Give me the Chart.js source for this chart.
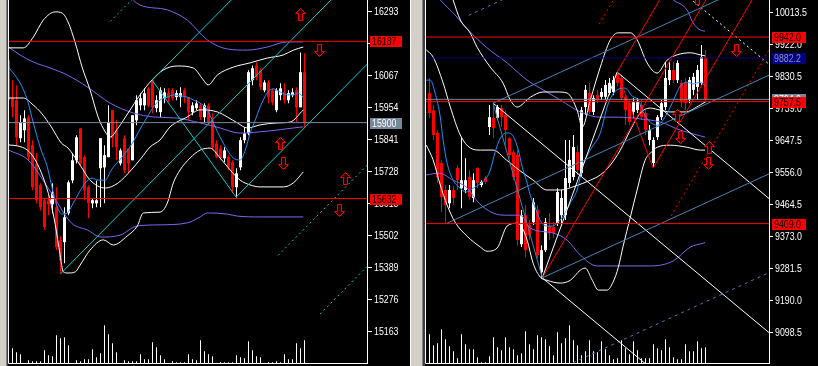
<!DOCTYPE html>
<html>
<head>
<meta charset="utf-8">
<script src="https://cdn.jsdelivr.net/npm/chart.js@4.4.0/dist/chart.umd.min.js"></script>
<style>
  html, body { margin: 0; padding: 0; background: #000; }
  body { width: 818px; height: 366px; position: relative; overflow: hidden; }
  canvas { position: absolute; top: 0; }
  #leftChart { left: 8px; }
  #rightChart { left: 425px; }
  .frame { position: absolute; top: 0; height: 366px; }
</style>
</head>
<body>
<div class="frame" style="left:0;width:6px;background:#d4d0c8"></div>
<div class="frame" style="left:6px;width:1px;background:#808080"></div>
<div class="frame" style="left:7px;width:1px;background:#404040"></div>
<div class="frame" style="left:410px;width:1px;background:#ffffff"></div>
<div class="frame" style="left:411px;width:11px;background:#d4d0c8"></div>
<div class="frame" style="left:422px;width:1px;background:#808080"></div>
<div class="frame" style="left:423px;width:2px;background:#404040"></div>
<canvas id="leftChart" width="402" height="366"></canvas>
<canvas id="rightChart" width="393" height="366"></canvas>
<script>
// ---------- left chart (15xxx index) ----------
var leftTicks = [16293, 16180, 16067, 15954, 15841, 15728, 15615, 15502, 15389, 15276, 15163];
var leftLevels = [16187, 15900, 15632];

var leftOpen = [16120,15986,15979,15845,15873,15919,15820,15756,15679,15626,
  15626,15612,15601,15485,15478,15580,15696,15767,15880,15778,
  15672,15615,15615,15739,15742,15778,15944,15873,15756,15845,
  15809,15767,15908,15961,15961,16021,16050,15951,15937,15986,
  16004,16014,15990,15990,16014,15990,15937,15951,15961,15919,
  15961,15908,15827,15809,15774,15778,15760,15672,15742,15838,
  15862,16050,16102,16085,16014,16042,16014,15944,15997,16007,
  15979,15997,16014,15954,16078];
var leftClose = [15979,15954,15848,15901,15915,15778,15672,15626,15601,15531,
  15612,15654,15460,15414,15566,15689,15767,15848,15756,15661,
  15615,15626,15626,15845,15785,15901,15845,15813,15802,15732,
  15756,15926,15979,15986,16004,15961,15954,15979,16014,16007,
  15986,15986,16004,16004,15990,15937,15961,15968,15919,15961,
  15901,15813,15778,15774,15802,15742,15672,15721,15838,15862,
  16078,16092,16060,16025,16042,15990,15972,16014,16021,15979,
  16004,16007,15954,16078,15900];
var leftHigh = [16138,16050,16032,15926,15944,15926,15838,15792,15686,15633,
  15643,15686,15672,15499,15601,15696,15792,15855,15880,15785,
  15679,15633,15696,15845,15820,15961,15944,15908,15809,15855,
  15809,15926,15997,16004,16021,16025,16050,15997,16025,16021,
  16021,16021,16014,16025,16021,15990,15972,15979,15968,15968,
  15968,15933,15838,15820,15813,15785,15767,15739,15848,15884,
  16085,16102,16113,16092,16050,16050,16021,16021,16039,16039,
  16014,16021,16025,16148,16145];
var leftLow = [15848,15919,15820,15831,15831,15767,15661,15615,15590,15520,
  15573,15580,15449,15368,15403,15573,15686,15756,15749,15626,
  15562,15598,15601,15601,15615,15778,15813,15767,15749,15721,
  15721,15767,15891,15944,15944,15954,15933,15937,15919,15968,
  15972,15979,15979,15954,15968,15908,15926,15944,15908,15901,
  15891,15802,15774,15767,15760,15732,15651,15636,15732,15827,
  15855,16032,16050,16014,16007,15968,15961,15937,15979,15968,
  15968,15990,15901,15954,15884];
var leftVol = [0,44,32,26,0,8,5,5,5,38,23,20,83,74,77,53,0,8,5,11,11,41,17,29,113,
  86,59,32,0,8,5,5,5,26,11,11,62,47,23,11,0,5,2,2,2,26,11,8,68,35,26,20,0,2,2,
  2,2,23,17,14,65,38,20,17,0,2,2,5,2,26,11,11,59,44,68];

var leftMA = [[0,16096],[2.9,16040],[4.7,15980],[6.2,15899],[7.9,15814],[9.7,15743],[11.2,15652],
  [12.2,15602],[13.4,15577],[14.7,15581],[16.2,15616],[17.9,15659],[19.2,15687],[20.9,15704],
  [22.4,15697],[24.2,15697],[25.7,15733],[28.2,15775],[30.7,15821],[33.2,15885],[34.7,15920],
  [36.2,15955],[37.9,15980],[39.7,15990],[41.2,15998],[42.9,15994],[44.7,15990],[46.2,15980],
  [47.9,15969],[49.7,15945],[51.2,15899],[52.9,15849],[54.7,15803],[56.2,15775],[57.9,15768],
  [59.2,15803],[60.4,15863],[61.7,15909],[62.9,15955],[64.7,16005],[66.2,16019],[67.9,16008],
  [69.7,15998],[71.2,15998],[72.4,16005],[73.7,15990]];
var leftBandUp = [[0,16164],[3.7,16164],[6.2,16202],[8.7,16262],[11.7,16291],[13.4,16287],[14.9,16255],
  [16.7,16181],[18.4,16096],[20.4,16015],[22.4,15920],[24.2,15867],[25.4,15849],[27.4,15881],
  [29.9,15934],[32.9,15998],[35.9,16051],[38.7,16086],[42.2,16100],[46.2,16093],[48.7,16051],
  [49.9,16033],[52.2,16068],[56.2,16096],[60.4,16111],[64.7,16128],[68.7,16139],[71.2,16156],[73.7,16167]];
var leftBandMid = [[0,15987],[3.7,15987],[6.2,15962],[8.2,15934],[10.7,15885],[13.2,15828],[14.9,15810],
  [17.9,15750],[20.4,15697],[24.2,15669],[27.4,15687],[30.7,15733],[33.2,15775],[35.4,15814],
  [37.9,15839],[40.4,15885],[44.7,15920],[47.9,15945],[52.2,15938],[54.7,15920],[57.2,15899],
  [59.7,15881],[62.9,15892],[67.2,15899],[70.4,15902],[73.7,15945]];
var leftBandLow = [[0,15821],[2.2,15818],[4.7,15803],[6.7,15768],[8.7,15705],[10.4,15627],[11.7,15539],
  [12.9,15433],[13.7,15373],[14.9,15369],[16.7,15373],[17.9,15397],[20.4,15450],[23.7,15486],
  [26.2,15468],[29.7,15500],[32.2,15535],[33.7,15581],[37.9,15584],[39.7,15616],[41.2,15687],
  [42.9,15733],[45.4,15775],[47.9,15803],[50.4,15810],[52.9,15775],[55.4,15733],[57.9,15697],
  [60.4,15680],[62.9,15673],[68.7,15673],[71.2,15687],[73.7,15726]];
var leftSlowUp = [[25.4,16442],[31.2,16333],[32.9,16315],[39.7,16298],[44.7,16262],[49.7,16192],
  [54.7,16160],[59.7,16156],[64.7,16167],[69.7,16185],[73.7,16185]];
var leftSlowMid = [[0,16167],[2.9,16139],[6.2,16114],[10.4,16093],[14.7,16068],[19.7,16026],[25.4,15969],
  [31.2,15934],[36.2,15920],[42.2,15916],[47.9,15899],[52.9,15881],[57.9,15863],[64.7,15870],
  [71.2,15881],[73.7,15885]];
var leftSlowLow = [[0,15803],[4.9,15768],[10.7,15652],[15.7,15546],[19.7,15521],[23.2,15496],[27.9,15503],
  [32.2,15535],[37.9,15539],[44.7,15546],[47.9,15567],[49.7,15581],[54.7,15577],[57.2,15570],
  [62.9,15567],[73.7,15567]];

// pitchfork on the left chart
var leftForkMedian = [[13.0,15366],[82.9,16366]];
var leftForkUpper = [[35.9,16050],[57.9,16365]];
var leftForkLower = [[56.9,15637],[90.4,16117]];
var leftForkLink = [[35.9,16050],[56.9,15637]];
var leftForkDots = [[[25.4,16257],[31.7,16346]], [[67.4,15431],[90.4,15760]], [[77.9,15224],[90.4,15403]]];

var leftArrowsUp = [[72.9,16282],[67.9,15827],[84.1,15703]];
var leftArrowsDown = [[77.5,16156],[68.5,15758],[82.6,15592]];

// ---------- right chart (9xxx index) ----------
var rightTicks = [10013.5, 9922.0, 9830.5, 9739.0, 9647.5, 9556.0, 9464.5, 9373.0, 9281.5, 9190.0, 9098.5];
var rightLevels = [9942.0, 9882.2, 9764.0, 9757.5, 9409.0];

var rightOpen = [9782,9733,9668,9582,9505,9467,9505,9568,9510,9505,
  9542,9482,9568,9519,9539,9685,9711,9711,9739,9719,
  9653,9613,9605,9350,9433,9405,9413,9448,9270,9333,
  9402,9399,9410,9433,9433,9525,9542,9613,9553,9742,
  9782,9728,9776,9771,9771,9782,9785,9839,9825,9771,
  9753,9728,9733,9748,9725,9648,9582,9656,9713,9742,
  9819,9848,9819,9811,9811,9762,9791,9799,9811,9885];
var rightClose = [9725,9662,9542,9485,9462,9505,9482,9533,9533,9533,
  9485,9533,9525,9528,9528,9713,9682,9742,9713,9676,
  9605,9542,9362,9433,9333,9376,9470,9319,9333,9413,
  9382,9382,9499,9482,9539,9591,9628,9562,9733,9791,
  9728,9768,9762,9785,9805,9811,9819,9811,9768,9733,
  9699,9756,9756,9713,9676,9676,9648,9713,9753,9825,
  9848,9819,9868,9756,9753,9819,9828,9848,9885,9764];
var rightHigh = [9825,9748,9676,9590,9519,9519,9516,9576,9656,9596,
  9562,9553,9570,9533,9545,9748,9753,9748,9748,9733,
  9656,9619,9619,9448,9462,9419,9482,9462,9347,9425,
  9439,9413,9510,9505,9648,9648,9662,9633,9742,9805,
  9811,9776,9791,9796,9819,9825,9831,9845,9834,9776,
  9762,9768,9768,9762,9733,9691,9656,9719,9762,9871,
  9871,9871,9876,9819,9825,9828,9839,9862,9919,9905];
var rightLow = [9711,9648,9525,9442,9410,9453,9462,9505,9453,9496,
  9476,9470,9510,9513,9522,9662,9653,9705,9685,9633,
  9596,9533,9347,9342,9313,9362,9405,9310,9253,9328,
  9362,9368,9402,9402,9419,9513,9533,9548,9545,9719,
  9722,9719,9753,9762,9762,9776,9776,9802,9762,9691,
  9691,9711,9725,9705,9662,9633,9570,9648,9705,9733,
  9805,9811,9811,9742,9733,9753,9776,9762,9805,9753];
var rightVol = [86,53,59,101,71,50,35,14,86,56,41,41,17,2,2,20,77,47,38,77,47,41,23,29,95,
  56,41,83,77,71,50,23,92,59,74,113,68,53,23,35,68,35,32,65,41,23,11,14,68,44,26,65,38,14,14,
  14,56,44,38,71,47,17,11,11,56,35,35,65,44,47];

var rightMA = [[-0.8,9819],[0.2,9819],[1.4,9782],[2.7,9713],[3.4,9648],[4.4,9582],[5.9,9533],[7.4,9513],
  [9.2,9499],[10.9,9510],[12.9,9525],[14.2,9539],[15.2,9562],[16.4,9613],[17.7,9653],[19.4,9668],
  [20.9,9659],[22.2,9619],[23.2,9570],[24.2,9533],[25.2,9490],[26.7,9447],[27.9,9413],[29.2,9402],
  [30.7,9402],[31.9,9410],[33.4,9430],[35.2,9468],[36.9,9505],[38.4,9576],[40.2,9619],[42.7,9668],
  [44.4,9742],[45.7,9776],[47.2,9793],[48.9,9796],[50.7,9773],[52.2,9762],[53.4,9728],[55.2,9699],
  [56.9,9690],[58.4,9705],[60.2,9742],[61.9,9785],[62.7,9802],[64.4,9813],[65.9,9808],[67.7,9813],[68.9,9802]];
var rightBandUp = [[2.7,10162],[5.9,10048],[7.7,9991],[10.2,9953],[11.9,9913],[15.2,9856],[18.4,9810],
  [20.2,9762],[21.9,9742],[25.2,9770],[28.4,9785],[31.9,9785],[34.4,9782],[36.9,9733],[38.2,9685],
  [40.2,9762],[42.7,9856],[45.2,9934],[47.2,9954],[50.2,9954],[51.9,9934],[54.4,9868],[56.9,9839],
  [59.4,9876],[61.9,9891],[65.2,9897],[67.7,9891],[68.9,9888]];
var rightBandMid = [[-0.8,9905],[0.9,9885],[3.4,9811],[5.2,9742],[7.7,9662],[10.2,9625],[12.7,9619],
  [15.9,9619],[19.2,9591],[22.4,9562],[25.9,9533],[29.4,9505],[32.7,9505],[36.4,9516],[40.2,9533],
  [42.7,9548],[45.2,9576],[47.7,9619],[50.2,9676],[52.7,9725],[55.2,9739],[57.7,9733],[60.2,9728],
  [63.9,9728],[67.7,9748],[68.9,9756]];
var rightBandLow = [[-0.8,9633],[0.9,9591],[2.7,9519],[4.4,9462],[6.4,9413],[9.4,9373],[12.7,9342],
  [14.4,9330],[16.9,9339],[19.4,9402],[21.9,9410],[23.2,9396],[24.4,9362],[25.9,9296],[27.7,9256],
  [29.4,9247],[32.7,9239],[35.2,9247],[37.7,9276],[38.9,9282],[40.7,9247],[42.2,9219],[44.4,9219],
  [45.9,9242],[47.2,9284],[48.4,9344],[50.2,9427],[51.9,9505],[53.9,9590],[55.2,9610],[56.9,9627],
  [60.2,9633],[64.4,9627],[67.7,9619],[68.9,9619]];
var rightSlowUp = [[57.7,10076],[60.9,10048],[64.4,10019],[65.9,9982],[67.7,9962],[68.9,9959]];
var rightSlowMid = [[-0.8,10100],[2.7,10048],[6.4,10005],[9.7,9962],[14.4,9911],[19.4,9868],[24.4,9819],
  [28.4,9791],[32.7,9762],[37.7,9728],[42.7,9713],[47.2,9713],[52.7,9708],[57.7,9699],[62.7,9676],[68.9,9656]];
var rightSlowLow = [[-0.8,9548],[2.4,9553],[5.9,9533],[9.2,9513],[12.4,9467],[15.9,9439],[19.2,9433],
  [22.7,9433],[25.2,9396],[30.9,9382],[34.4,9362],[37.7,9319],[41.9,9288],[55.2,9288],[60.9,9302],
  [65.2,9342],[68.4,9353],[68.9,9355]];

// three pitchforks on the right chart
var blueForkMedian = [[4.35,9410],[86.4,9841]];
var blueForkUpper = [[15.9,9753],[72.7,10051]];
var blueForkLower = [[28.2,9254],[86.4,9559]];
var blueForkLink = [[15.9,9753],[28.2,9254]];
var blueForkDots = [[[9.8,10004],[18.9,10052]], [[34.3,9003],[86.4,9277]]];

var redForkMedian = [[28.2,9254],[69.4,10054]];
var redForkUpper = [[46.9,9842],[57.7,10051]];
var redForkLower = [[55.9,9568],[80.9,10053]];
var redForkLink = [[46.9,9842],[55.9,9568]];
var redForkDots = [[[42.4,9979],[46.2,10052]], [[60.4,9431],[86.4,9935]]];

var whiteForkMedian = [[15.9,9753],[86.4,9083]];
var whiteForkUpper = [[46.9,9842],[86.4,9466]];
var whiteForkLower = [[28.2,9254],[55.2,8997]];
var whiteForkLink = [[46.9,9842],[28.2,9254]];
var whiteForkDots = [[[56.3,10136],[86.4,9850]]];

var rightArrowsUp = [[66.9,10053],[61.9,9719],[69.9,9628]];
var rightArrowsDown = [[76.7,9905],[62.7,9656],[69.7,9582]];

// ---------- drawing ----------
var FONT = "'Liberation Sans', Arial, sans-serif";
Chart.defaults.font.family = FONT;
Chart.defaults.font.size = 11;

// MT4 axis text is narrow, so squeeze it horizontally
function narrowText(ctx, text, x, y, color) {
  ctx.save();
  ctx.font = '11px ' + FONT;
  ctx.textBaseline = 'middle';
  ctx.textAlign = 'left';
  ctx.fillStyle = color;
  ctx.translate(x, y);
  ctx.scale(0.8, 1);
  ctx.fillText(text, 0, 0);
  ctx.restore();
}

function lineSet(pts, color, dash, smooth, order) {
  return {
    type: 'line',
    yAxisID: 'y',
    data: pts.map(function (p) { return { x: p[0], y: p[1] }; }),
    borderColor: color,
    borderWidth: 1,
    borderDash: dash || [],
    pointRadius: 0,
    fill: false,
    tension: 0,
    cubicInterpolationMode: smooth ? 'monotone' : 'default',
    order: order
  };
}

function candleSets(open, close, high, low, vol) {
  var colors = close.map(function (c, i) { return c >= open[i] ? '#ffffff' : '#ff0000'; });
  return [
    { type: 'bar', yAxisID: 'y', data: open.map(function (o, i) { return { x: i, y: [o, close[i]] }; }),
      backgroundColor: colors, barThickness: 3, minBarLength: 1, grouped: false, inflateAmount: 0, order: 2 },
    { type: 'bar', yAxisID: 'y', data: high.map(function (h, i) { return { x: i, y: [low[i], h] }; }),
      backgroundColor: colors, barThickness: 1, grouped: false, inflateAmount: 0, order: 3 },
    { type: 'bar', yAxisID: 'vol', data: vol.map(function (v, i) { return { x: i, y: v }; }),
      backgroundColor: '#ffffff', barThickness: 1, grouped: false, inflateAmount: 0, order: 4 }
  ];
}

function drawArrow(ctx, cx, cy, up) {
  var s = up ? 1 : -1;
  cx = Math.round(cx) + 0.5; cy = Math.round(cy) + 0.5;
  ctx.beginPath();
  ctx.moveTo(cx, cy - 6 * s);
  ctx.lineTo(cx + 5, cy - 1 * s);
  ctx.lineTo(cx + 2, cy - 1 * s);
  ctx.lineTo(cx + 2, cy + 6 * s);
  ctx.lineTo(cx - 2, cy + 6 * s);
  ctx.lineTo(cx - 2, cy - 1 * s);
  ctx.lineTo(cx - 5, cy - 1 * s);
  ctx.closePath();
  ctx.fillStyle = '#300000';
  ctx.fill();
  ctx.strokeStyle = '#ff0000';
  ctx.lineWidth = 1;
  ctx.stroke();
}

function extrasPlugin(p) {
  return {
    id: 'mtExtras',
    afterDraw: function (chart) {
      var ctx = chart.ctx, a = chart.chartArea, xs = chart.scales.x, ys = chart.scales.y;
      ctx.save();
      ctx.beginPath();
      ctx.rect(a.left, a.top, a.right - a.left, a.bottom - a.top);
      ctx.clip();
      p.up.forEach(function (q) { drawArrow(ctx, xs.getPixelForValue(q[0]), ys.getPixelForValue(q[1]), true); });
      p.down.forEach(function (q) { drawArrow(ctx, xs.getPixelForValue(q[0]), ys.getPixelForValue(q[1]), false); });
      ctx.restore();

      ctx.save();
      ctx.strokeStyle = '#ffffff';
      ctx.lineWidth = 1;
      ctx.beginPath();
      ctx.moveTo(a.left + 0.5, a.top);
      ctx.lineTo(a.left + 0.5, a.bottom + 0.5);
      ctx.lineTo(a.right + 0.5, a.bottom + 0.5);
      ctx.stroke();
      ctx.restore();

      // tick labels
      p.ticks.forEach(function (v) {
        narrowText(ctx, p.fmt(v), a.right + p.tickLength + 2, Math.round(ys.getPixelForValue(v)) + 1, '#ffffff');
      });
      // price tags of the horizontal levels
      p.levels.forEach(function (v, i) {
        var y = Math.round(ys.getPixelForValue(v));
        ctx.fillStyle = p.tagBg[i];
        ctx.fillRect(a.right + 3, y - 5, p.tagWidth, 11);
        narrowText(ctx, p.fmt(v), a.right + 5, y + 1, p.tagFg[i]);
      });
    }
  };
}

function buildPanel(id, p) {
  var ds = [];
  p.levels.forEach(function (v, i) {
    ds.push(lineSet([[p.xr[0], v], [p.xr[1], v]], p.levelColors[i], null, false, 0));
  });
  p.objects.forEach(function (o) { ds.push(lineSet(o[0], o[1], o[2], false, 0)); });
  p.curves.forEach(function (c) { ds.push(lineSet(c[0], c[1], null, true, 1)); });
  candleSets(p.open, p.close, p.high, p.low, p.vol).forEach(function (d) { ds.push(d); });

  new Chart(document.getElementById(id), {
    type: 'bar',
    data: { datasets: ds },
    options: {
      responsive: false,
      animation: false,
      devicePixelRatio: 1,
      layout: { padding: { left: 0, right: 0, top: 0, bottom: 3 } },
      plugins: { legend: { display: false }, tooltip: { enabled: false } },
      scales: {
        x: { type: 'linear', display: false, offset: false, min: p.xr[0], max: p.xr[1] },
        y: {
          type: 'linear', position: 'right', min: p.yr[0], max: p.yr[1],
          afterBuildTicks: function (s) { s.ticks = p.ticks.map(function (v) { return { value: v }; }); },
          afterFit: function (s) { s.width = p.axisWidth; s.paddingTop = 0; s.paddingBottom = 0; },
          ticks: { color: 'rgba(0,0,0,0)', padding: 1, autoSkip: false, callback: function (v) { return p.fmt(v); } },
          grid: { drawOnChartArea: false, color: '#ffffff', tickColor: '#ffffff', tickLength: p.tickLength },
          border: { display: true, color: '#ffffff', width: 1 }
        },
        vol: { type: 'linear', display: false, min: 0, max: 1089 }
      }
    },
    plugins: [extrasPlugin(p)]
  });
}

var CYAN = '#00ced1', STEEL = '#4682b4', RED = '#ff0000', WHITE = '#ffffff';
var PURPLE = '#7b68ee', MABLUE = '#1e90ff', DOT = [2, 3];

var leftObjects = [
  [leftForkMedian, CYAN], [leftForkUpper, CYAN], [leftForkLower, CYAN], [leftForkLink, CYAN]
].concat(leftForkDots.map(function (d) { return [d, CYAN, DOT]; }));

buildPanel('leftChart', {
  xr: [-0.125, 89.625], yr: [15051.2, 16333],
  axisWidth: 43, tickLength: 5, tagWidth: 32,
  ticks: leftTicks,
  fmt: function (v) { return String(Math.round(v)); },
  levels: leftLevels,
  levelColors: [RED, '#778899', RED],
  tagBg: [RED, '#778899', RED],
  tagFg: ['#000000', '#ffffff', '#000000'],
  objects: leftObjects,
  curves: [[leftMA, MABLUE], [leftBandUp, WHITE], [leftBandMid, WHITE], [leftBandLow, WHITE],
           [leftSlowUp, PURPLE], [leftSlowMid, PURPLE], [leftSlowLow, PURPLE]],
  open: leftOpen, close: leftClose, high: leftHigh, low: leftLow, vol: leftVol,
  up: leftArrowsUp, down: leftArrowsDown
});

var rightObjects = [
  [blueForkMedian, STEEL], [blueForkUpper, STEEL], [blueForkLower, STEEL], [blueForkLink, STEEL],
  [redForkMedian, RED], [redForkUpper, RED], [redForkLower, RED], [redForkLink, RED],
  [whiteForkMedian, WHITE], [whiteForkUpper, WHITE], [whiteForkLower, WHITE], [whiteForkLink, WHITE]
].concat(blueForkDots.map(function (d) { return [d, STEEL, [3, 4]]; }))
 .concat(redForkDots.map(function (d) { return [d, RED, DOT]; }))
 .concat(whiteForkDots.map(function (d) { return [d, WHITE, DOT]; }));

buildPanel('rightChart', {
  xr: [-1.125, 84.875], yr: [9010.7, 10047.8],
  axisWidth: 49, tickLength: 4, tagWidth: 34,
  ticks: rightTicks,
  fmt: function (v) { return v.toFixed(1); },
  levels: rightLevels,
  levelColors: [RED, '#000080', '#778899', RED, RED],
  tagBg: [RED, '#000080', '#778899', RED, RED],
  tagFg: ['#000000', '#8c8cd0', '#ffffff', '#000000', '#000000'],
  objects: rightObjects,
  curves: [[rightMA, MABLUE], [rightBandUp, WHITE], [rightBandMid, WHITE], [rightBandLow, WHITE],
           [rightSlowUp, PURPLE], [rightSlowMid, PURPLE], [rightSlowLow, PURPLE]],
  open: rightOpen, close: rightClose, high: rightHigh, low: rightLow, vol: rightVol,
  up: rightArrowsUp, down: rightArrowsDown
});
</script>
</body>
</html>
